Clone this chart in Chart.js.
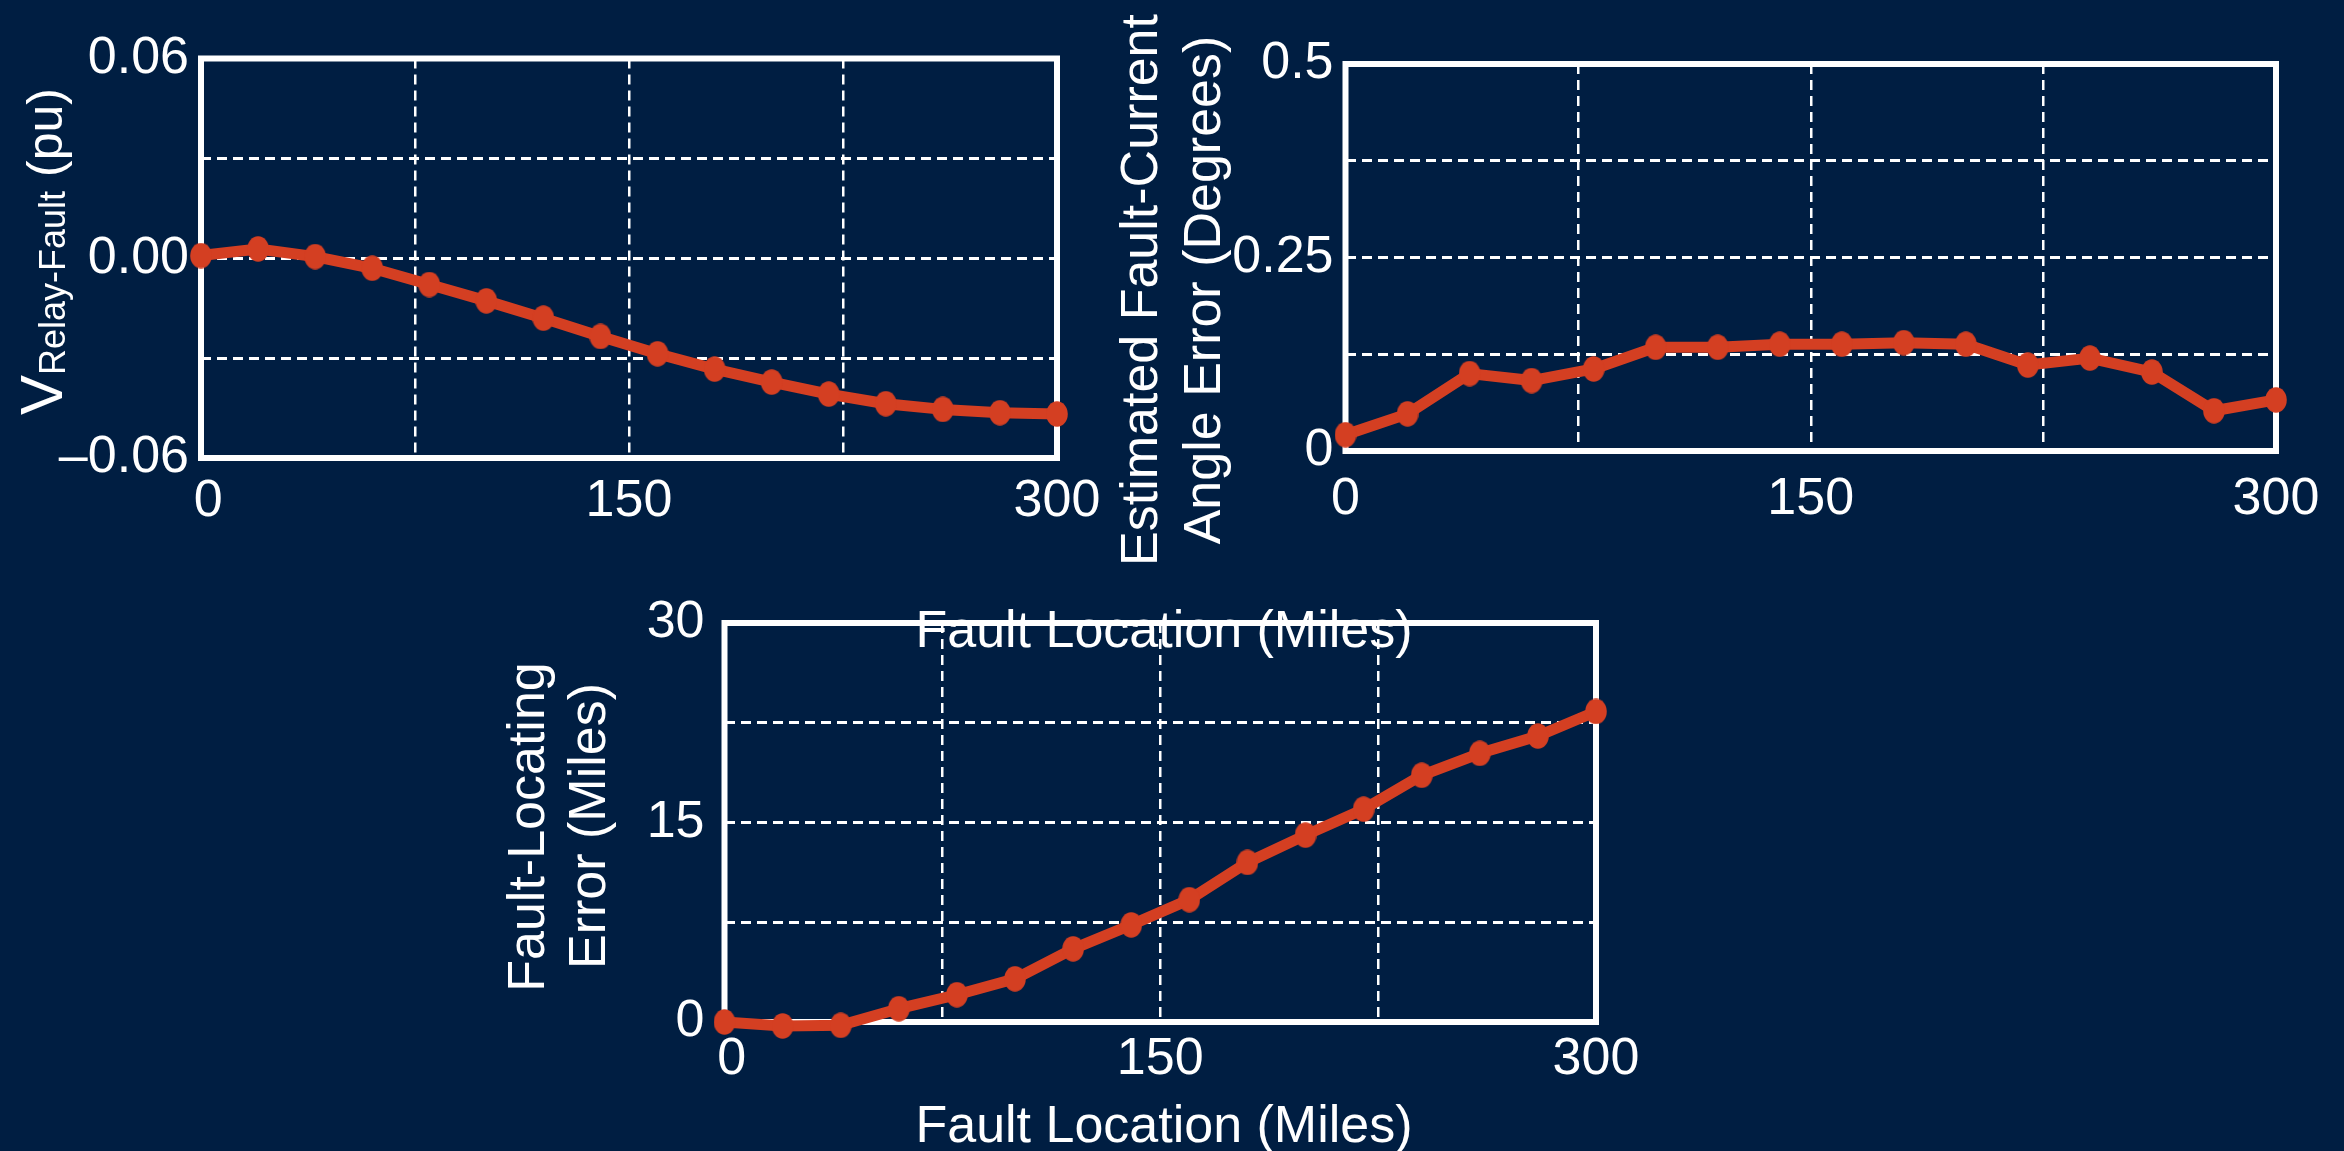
<!DOCTYPE html>
<html>
<head>
<meta charset="utf-8">
<script src="https://cdn.jsdelivr.net/npm/chart.js@4.4.1/dist/chart.umd.min.js"></script>
<style>
  html, body { margin: 0; padding: 0; background: #001E42; }
  #page { position: relative; width: 2344px; height: 1151px; overflow: hidden; background: #001E42; }
  #page canvas { position: absolute; }
  #labels { position: absolute; left: 0; top: 0; pointer-events: none; }
  #labels text { font-family: "Liberation Sans", Arial, sans-serif; fill: #ffffff; }
</style>
</head>
<body>
<div id="page">
  <canvas id="voltageChart"></canvas>
  <canvas id="angleChart"></canvas>
  <canvas id="locationChart"></canvas>
  <svg id="labels" width="2344" height="1151" xmlns="http://www.w3.org/2000/svg">
    <!-- y-axis title of the voltage panel -->
    <text transform="translate(62,415) rotate(-90)"><tspan font-size="60">V</tspan><tspan font-size="36" dy="3">Relay-Fault</tspan><tspan font-size="50" dy="-3"> (pu)</tspan></text>
    <!-- y-axis title of the angle-error panel -->
    <text font-size="52" text-anchor="middle" transform="translate(1157,290) rotate(-90)">Estimated Fault-Current</text>
    <text font-size="52" text-anchor="middle" transform="translate(1220,290) rotate(-90)">Angle Error (Degrees)</text>
    <!-- y-axis title of the fault-locating panel -->
    <text font-size="52" text-anchor="middle" transform="translate(544,827) rotate(-90)">Fault-Locating</text>
    <text font-size="52" text-anchor="middle" transform="translate(605,826) rotate(-90)">Error (Miles)</text>
    <!-- x-axis titles -->
    <text font-size="52" text-anchor="middle" x="1164" y="647">Fault Location (Miles)</text>
    <text font-size="52" text-anchor="middle" x="1164" y="1142">Fault Location (Miles)</text>
  </svg>
</div>
<script>
// Fault positions along the line (miles) shared by all three panels
const faultLocation = [0, 20, 40, 60, 80, 100, 120, 140, 160, 180, 200, 220, 240, 260, 280, 300];

// Relay-to-fault voltage (pu)
const vRelayFault = [0.0008, 0.0028, 0.0005, -0.0030, -0.0079, -0.0128, -0.0180, -0.0235,
                     -0.0287, -0.0333, -0.0372, -0.0408, -0.0437, -0.0454, -0.0464, -0.0468];

// Estimated fault-current angle error (degrees)
const angleError = [0.021, 0.048, 0.100, 0.091, 0.106, 0.134, 0.134, 0.138,
                    0.138, 0.140, 0.138, 0.111, 0.120, 0.102, 0.052, 0.066];

// Fault-locating error (miles)
const locatingError = [0.0, -0.3, -0.25, 1.0, 2.05, 3.25, 5.5, 7.3,
                       9.2, 12.0, 14.05, 16.0, 18.55, 20.2, 21.5, 23.35];

// Grid positions and the text shown at each of them
const xGrid = [0, 75, 150, 225, 300];
const xTickLabels = ['0', '', '150', '', '300'];
const vGrid = [-0.06, -0.03, 0, 0.03, 0.06];
const vTickLabels = ['\u20130.06', '', '0.00', '', '0.06'];
const angleGrid = [0, 0.125, 0.25, 0.375, 0.5];
const angleTickLabels = ['0', '', '0.25', '', '0.5'];
const locGrid = [0, 7.5, 15, 22.5, 30];
const locTickLabels = ['0', '', '15', '', '30'];

const LINE_RED = '#D43F22';
const TICK_FONT = { family: '"Liberation Sans", Arial, sans-serif', size: 52 };
const X_AXIS_HEIGHT = 90;

// Slightly tall oval marker used for every data point
const marker = document.createElement('canvas');
marker.width = 22;
marker.height = 26;
(function () {
  const m = marker.getContext('2d');
  m.fillStyle = LINE_RED;
  m.beginPath();
  m.ellipse(11, 13, 10.8, 12.8, 0, 0, Math.PI * 2);
  m.fill();
})();

// White frame around the plot area, drawn under the data line
const framePlugin = {
  id: 'frame',
  beforeDatasetsDraw(chart) {
    const { ctx, chartArea: a } = chart;
    ctx.save();
    ctx.strokeStyle = '#ffffff';
    ctx.lineWidth = 6;
    ctx.lineJoin = 'miter';
    ctx.strokeRect(a.left, a.top, a.right - a.left, a.bottom - a.top);
    ctx.restore();
  }
};

function innerGridColor(count) {
  return (c) => (c.index === 0 || c.index === count - 1) ? 'rgba(0,0,0,0)' : '#ffffff';
}

// The first x label sits a little right of its tick on some panels
function xLabel(i, nudgeFirst) {
  return (i === 0 && nudgeFirst) ? ' ' + xTickLabels[i] : xTickLabels[i];
}

function makePanel(id, box, plot, series, yGrid, yLabels, pad) {
  const cv = document.getElementById(id);
  cv.width = box.w;
  cv.height = box.h;
  cv.style.left = box.x + 'px';
  cv.style.top = box.y + 'px';
  const L = plot.l - box.x, T = plot.t - box.y, R = plot.r - box.x, B = plot.b - box.y;

  return new Chart(cv, {
    type: 'line',
    data: {
      datasets: [{
        data: faultLocation.map((x, i) => ({ x: x, y: series[i] })),
        borderColor: LINE_RED,
        backgroundColor: LINE_RED,
        pointStyle: marker,
        borderWidth: 11,
        pointRadius: 11,
        pointHoverRadius: 11,
        tension: 0,
        clip: false,
        borderJoinStyle: 'round',
        borderCapStyle: 'round'
      }]
    },
    options: {
      responsive: false,
      animation: false,
      devicePixelRatio: 1,
      events: [],
      layout: { padding: { left: 0, top: T, right: box.w - R, bottom: box.h - B - X_AXIS_HEIGHT } },
      plugins: { legend: { display: false }, tooltip: { enabled: false } },
      scales: {
        x: {
          type: 'linear',
          min: xGrid[0],
          max: xGrid[xGrid.length - 1],
          afterBuildTicks: (s) => { s.ticks = xGrid.map(v => ({ value: v })); },
          afterFit: (s) => { s.height = X_AXIS_HEIGHT; },
          ticks: {
            callback: (v, i) => xLabel(i, pad.nudgeZero),
            color: '#ffffff',
            font: TICK_FONT,
            padding: pad.x,
            maxRotation: 0,
            autoSkip: false
          },
          grid: { color: innerGridColor(xGrid.length), lineWidth: 2.5, drawTicks: false },
          border: { display: false, dash: [10, 6] }
        },
        y: {
          type: 'linear',
          min: yGrid[0],
          max: yGrid[yGrid.length - 1],
          afterBuildTicks: (s) => { s.ticks = yGrid.map(v => ({ value: v })); },
          afterFit: (s) => { s.width = L; },
          ticks: {
            callback: (v, i) => yLabels[i],
            color: '#ffffff',
            font: TICK_FONT,
            padding: pad.y,
            autoSkip: false
          },
          grid: { color: innerGridColor(yGrid.length), lineWidth: 3, drawTicks: false },
          border: { display: false, dash: [10, 6] }
        }
      }
    },
    plugins: [framePlugin]
  });
}

makePanel('voltageChart',
  { x: 0, y: 0, w: 1150, h: 560 },
  { l: 201, t: 58.5, r: 1057, b: 458 },
  vRelayFault, vGrid, vTickLabels, { x: 12, y: 12, nudgeZero: true });

makePanel('angleChart',
  { x: 1100, y: 0, w: 1244, h: 560 },
  { l: 1345.5, t: 64, r: 2276, b: 451 },
  angleError, angleGrid, angleTickLabels, { x: 17, y: 12, nudgeZero: false });

makePanel('locationChart',
  { x: 480, y: 560, w: 1220, h: 591 },
  { l: 724.5, t: 623, r: 1596, b: 1022 },
  locatingError, locGrid, locTickLabels, { x: 6, y: 20, nudgeZero: true });
</script>
</body>
</html>
